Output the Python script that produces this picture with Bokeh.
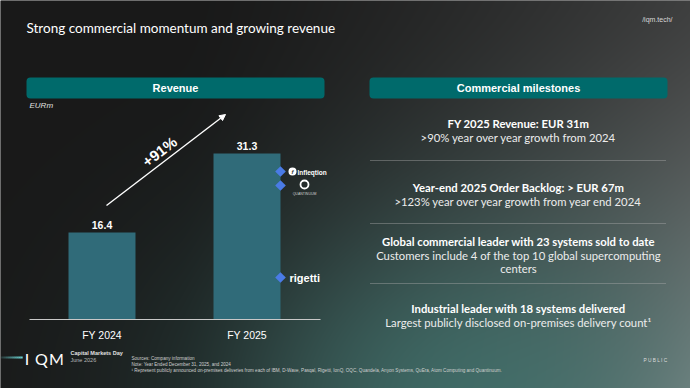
import numpy as np
from bokeh.plotting import figure
from bokeh.models import Range1d, BoxAnnotation, Arrow, NormalHead, ColumnDataSource
from bokeh.core.properties import value
from bokeh.embed import file_html
from bokeh.resources import INLINE

# ---- chart content -------------------------------------------------------
categories = ["FY 2024", "FY 2025"]
revenue = [16.4, 31.3]          # EURm
growth_label = "+91%"
unit_label = "EURm"
title = "Strong commercial momentum and growing revenue"
left_header = "Revenue"
right_header = "Commercial milestones"
milestone_titles = [
    "FY 2025 Revenue: EUR 31m",
    "Year-end 2025 Order Backlog: > EUR 67m",
    "Global commercial leader with 23 systems sold to date",
    "Industrial leader with 18 systems delivered",
]
milestone_details = [
    [">90% year over year growth from 2024"],
    [">123% year over year growth from year end 2024"],
    ["Customers include 4 of the top 10 global supercomputing", "centers"],
    ["Largest publicly disclosed on-premises delivery count\u00b9"],
]
footnotes = [
    "Sources: Company information",
    "Note: Year Ended December 31, 2025, and 2024",
    "\u00b9 Represent publicly announced on-premises deliveries from each of IBM, D-Wave, Pasqal, Rigetti, IonQ, OQC, "
    "Quandela, Anyon Systems, QuEra, Atom Computing and Quantinuum.",
]

# ---- canvas --------------------------------------------------------------
W, H = 690, 388


def Y(py):
    """Convert a distance from the top edge into the canvas y coordinate."""
    return H - py


p = figure(width=W, height=H, x_range=Range1d(0, W), y_range=Range1d(0, H),
           output_backend="svg", toolbar_location=None, min_border=0)
p.axis.visible = False
p.grid.visible = False
p.outline_line_color = None
p.background_fill_color = "#191919"
p.border_fill_color = "#191919"

# slide background: dark on the left, grey to the right, teal glow at the bottom
xs = np.arange(W) + 0.5
ys = np.arange(H) + 0.5
X, YY = np.meshgrid(xs, ys)
base = np.array([25.0, 25.0, 25.0])
hx = np.clip((X - 180) / 510, 0, 1) ** 1.4
vy = 0.35 + 0.65 * (YY / H) ** 1.3
wg = hx * vy
grey = np.array([132.0, 134.0, 134.0])
col = base + (grey - base) * wg[..., None]
d2 = ((X - 470) / 260) ** 2 + ((YY - 400) / 190) ** 2
wt = 0.75 * np.exp(-d2)
teal = np.array([62.0, 118.0, 112.0])
col = col + (teal - col) * wt[..., None]
img = np.empty((H, W), dtype=np.uint32)
view = img.view(dtype=np.uint8).reshape((H, W, 4))
view[..., :3] = np.clip(col, 0, 255).astype(np.uint8)
view[..., 3] = 255
p.image_rgba(image=[img[::-1]], x=0, y=0, dw=W, dh=H, level="image")

TXT = value("Lato")
ARIAL = value("Liberation Sans")

# ---- headings ------------------------------------------------------------
p.text(x=[26], y=[Y(27)], text=[title], text_font=TXT, text_font_size="13.5px",
       text_color="white", text_baseline="middle")
p.text(x=[672], y=[Y(19)], text=["/iqm.tech/"], text_font=ARIAL, text_font_size="7px",
       text_color="#d8d8d8", text_baseline="middle", text_align="right")

for (l, r, label) in [(26, 324, left_header), (369, 667, right_header)]:
    p.add_layout(BoxAnnotation(left=l, right=r, top=Y(77), bottom=Y(98),
                               fill_color="#006a6b", fill_alpha=1, line_alpha=0,
                               border_radius=4, level="underlay"))
    p.text(x=[(l + r) / 2], y=[Y(87.5)], text=[label], text_font=ARIAL,
           text_font_size="11px", text_font_style="bold", text_color="white",
           text_align="center", text_baseline="middle")

p.text(x=[29], y=[Y(105)], text=[unit_label], text_font=ARIAL, text_font_size="8px",
       text_font_style="italic", text_color="#e0e0e0", text_baseline="middle")

# ---- revenue bars --------------------------------------------------------
# value scale: 0 sits on the baseline, 5.3 px per EURm
base_py, px_per_unit = 319, 5.3
p.extra_y_ranges = {"rev": Range1d(-(H - base_py) / px_per_unit, base_py / px_per_unit)}
# category slots: first centre at x=101.5, 145 px apart
first_cx, slot = 101.5, 145
p.extra_x_ranges = {"cat": Range1d(-first_cx / slot, (W - first_cx) / slot)}

src = ColumnDataSource(dict(
    i=list(range(len(categories))), cat=categories, rev=revenue,
    lbl=[f"{v:.1f}" for v in revenue]))
p.vbar(x="i", top="rev", bottom=0, width=0.462, source=src,
       x_range_name="cat", y_range_name="rev",
       fill_color="#306b79", line_color=None)
p.text(x="i", y="rev", text="lbl", source=src, x_range_name="cat", y_range_name="rev",
       y_offset=-8, text_font=ARIAL, text_font_size="10.5px", text_font_style="bold",
       text_color="white", text_align="center", text_baseline="middle")
p.segment(x0=[-0.5], x1=[1.507], y0=[0], y1=[0], x_range_name="cat", y_range_name="rev",
          line_color="#c8c8c8", line_width=1.2)
p.text(x="i", y=value(0), text="cat", source=src, x_range_name="cat", y_range_name="rev",
       y_offset=15, text_font=ARIAL, text_font_size="10.5px", text_color="white",
       text_align="center", text_baseline="middle")

# growth arrow
p.add_layout(Arrow(x_start=106, y_start=Y(205), x_end=225, y_end=Y(114),
                   line_color="white", line_width=1.4,
                   end=NormalHead(size=6, fill_color="white", line_color="white")))
p.text(x=[159], y=[Y(151)], text=[growth_label], angle=0.66, text_font=ARIAL,
       text_font_size="15px", text_font_style="bold", text_color="white",
       text_align="center", text_baseline="middle")

# customer markers beside the FY 2025 bar
p.scatter(x=[280, 280, 280], y=[Y(171), Y(185), Y(277)], marker="square", size=7.5,
          angle=np.pi / 4, fill_color="#4a7be6", line_color=None)
p.scatter(x=[292], y=[Y(171)], marker="circle", size=8, fill_color="white", line_color=None)
p.text(x=[292], y=[Y(171)], text=["f"], text_font=ARIAL, text_font_size="6px",
       text_font_style="bold italic", text_color="#333333", text_align="center",
       text_baseline="middle")
p.text(x=[297], y=[Y(171.5)], text=["Infleqtion"], text_font=ARIAL, text_font_size="6.5px",
       text_font_style="bold", text_color="white", text_baseline="middle")
p.scatter(x=[304], y=[Y(184)], marker="circle", size=8, fill_color=None,
          line_color="white", line_width=1.8)
p.text(x=[304], y=[Y(193)], text=["QUANTINUUM"], text_font=ARIAL, text_font_size="3.5px",
       text_color="#cccccc", text_align="center", text_baseline="middle")
p.text(x=[289], y=[Y(277)], text=["rigetti"], text_font=ARIAL, text_font_size="11px",
       text_font_style="bold", text_color="white", text_baseline="middle")

# ---- milestones panel ----------------------------------------------------
cx = 518
block_py = [123, 187, 241, 308]
for t, details, py in zip(milestone_titles, milestone_details, block_py):
    p.text(x=[cx], y=[Y(py)], text=[t], text_font=TXT, text_font_size="11.3px",
           text_font_style="bold", text_color="white", text_align="center",
           text_baseline="middle")
    for j, d in enumerate(details):
        p.text(x=[cx], y=[Y(py + 13.5 * (j + 1))], text=[d], text_font=TXT,
               text_font_size="11.3px", text_color="#ececec", text_align="center",
               text_baseline="middle")
for py in [160, 223, 283]:
    p.segment(x0=[370], x1=[666], y0=[Y(py)], y1=[Y(py)], line_color="#b0b0b0",
              line_alpha=0.8, line_width=1, line_dash="1 1")

# ---- footer --------------------------------------------------------------
for k in range(11):
    p.segment(x0=[k * 2], x1=[k * 2 + 2.2], y0=[Y(357)], y1=[Y(357)],
              line_color="#6fd8d8", line_alpha=0.15 + 0.08 * k, line_width=2)
for ch, lx in zip("IQM", [26.5, 41, 56]):
    p.text(x=[lx], y=[Y(357.5)], text=[ch], text_font=value("Lato"), text_font_size="16px",
           text_color="white", text_align="center", text_baseline="middle")
p.text(x=[70], y=[Y(352)], text=["Capital Markets Day"], text_font=ARIAL,
       text_font_size="5.5px", text_font_style="bold", text_color="#e0e0e0",
       text_baseline="middle")
p.text(x=[70], y=[Y(359)], text=["June 2026"], text_font=ARIAL, text_font_size="5.5px",
       text_color="#b8b8b8", text_baseline="middle")
for j, f in enumerate(footnotes):
    p.text(x=[131], y=[Y(357.5 + 6 * j)], text=[f], text_font=ARIAL,
           text_font_size="4.6px", text_color="#d0d0d0", text_baseline="middle")
p.text(x=[667], y=[Y(360)], text=["P U B L I C"], text_font=ARIAL, text_font_size="4.8px",
       text_color="#dddddd", text_align="right", text_baseline="middle")

open("out.html", "w").write(file_html(p, INLINE))
